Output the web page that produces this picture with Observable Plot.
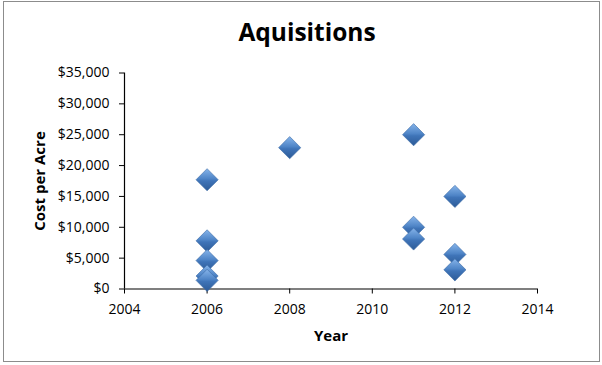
<!DOCTYPE html>
<html>
<head>
<meta charset="utf-8">
<script src="https://cdn.jsdelivr.net/npm/d3@7"></script>
<script src="https://cdn.jsdelivr.net/npm/@observablehq/plot@0.6"></script>
<style>
  html, body { margin: 0; padding: 0; background: #fff; }
  #wrap { position: relative; width: 602px; height: 365px; overflow: hidden; }
  #frame { position: absolute; left: 3px; top: 1px; width: 597px; height: 361px; border: 1.3px solid #8c8c8c; box-sizing: border-box; pointer-events: none; }
  #chart { position: absolute; left: 0; top: 0; }
  #chart svg g[aria-label*="axis"] text { font-size: 14px !important; fill: #000; }
</style>
</head>
<body>
<div id="wrap">
  <div id="chart"></div>
  <div id="frame"></div>
</div>
<script>
// Data
const title = "Aquisitions";
const xLabel = "Year";
const yLabel = "Cost per Acre";
const years = [2006, 2006, 2006, 2006, 2006, 2008, 2011, 2011, 2011, 2012, 2012, 2012];
const costs = [17700, 7800, 4600, 2100, 1400, 22900, 25000, 10000, 8100, 15000, 5600, 3100];
const xTicks = [2004, 2006, 2008, 2010, 2012, 2014];
const yTicks = [0, 5000, 10000, 15000, 20000, 25000, 30000, 35000];

const points = years.map((y, i) => ({year: y, cost: costs[i]}));
const money = d3.format("$,");

const plot = Plot.plot({
  width: 602,
  height: 365,
  marginLeft: 124,
  marginRight: 65,
  marginTop: 72.5,
  marginBottom: 76.5,
  style: {fontFamily: "'Open Sans', sans-serif", fontSize: "14px", color: "#000", background: "transparent"},
  x: {domain: [2004, 2014], ticks: xTicks, tickFormat: d => String(d), tickSize: 5, tickPadding: 10, label: null},
  y: {domain: [0, 35000], ticks: yTicks, tickFormat: money, tickSize: 5, tickPadding: 10, label: null},
  marks: [
    Plot.ruleX([2004], {stroke: "#000", strokeWidth: 1.2}),
    Plot.ruleY([0], {stroke: "#000", strokeWidth: 1.2}),
    Plot.dot(points, {x: "year", y: "cost", symbol: "diamond2", r: 10, fill: "url(#diamondGrad)", stroke: "#3d6ca6", strokeWidth: 0.6}),
    Plot.text([title], {frameAnchor: "top", dx: -24, dy: -39.5, fontSize: 24.5, fontWeight: "bold", lineAnchor: "middle", textAnchor: "middle"}),
    Plot.text([xLabel], {frameAnchor: "bottom", dy: 47.5, fontSize: 15, fontWeight: "bold", lineAnchor: "middle", textAnchor: "middle"}),
    Plot.text([yLabel], {frameAnchor: "left", dx: -84, rotate: -90, fontSize: 15, fontWeight: "bold", lineAnchor: "middle", textAnchor: "middle"})
  ]
});

// gradient and shadow definitions referenced by the diamond fill
const ns = "http://www.w3.org/2000/svg";
const defs = document.createElementNS(ns, "defs");
defs.innerHTML = `
  <linearGradient id="diamondGrad" x1="0" y1="0" x2="0" y2="1">
    <stop offset="0" stop-color="#86b4ea"/>
    <stop offset="0.45" stop-color="#4f85c7"/>
    <stop offset="0.55" stop-color="#3f74b8"/>
    <stop offset="1" stop-color="#2c5a96"/>
  </linearGradient>
  <filter id="dshadow" x="-50%" y="-50%" width="200%" height="200%">
    <feDropShadow dx="0.8" dy="1.8" stdDeviation="1.2" flood-color="#000" flood-opacity="0.35"/>
  </filter>`;
plot.insertBefore(defs, plot.firstChild);
plot.querySelectorAll("path").forEach(p => {
  if ((p.getAttribute("fill") || "").startsWith("url(#diamondGrad")) p.setAttribute("filter", "url(#dshadow)");
});
document.getElementById("chart").appendChild(plot);
</script>
</body>
</html>
